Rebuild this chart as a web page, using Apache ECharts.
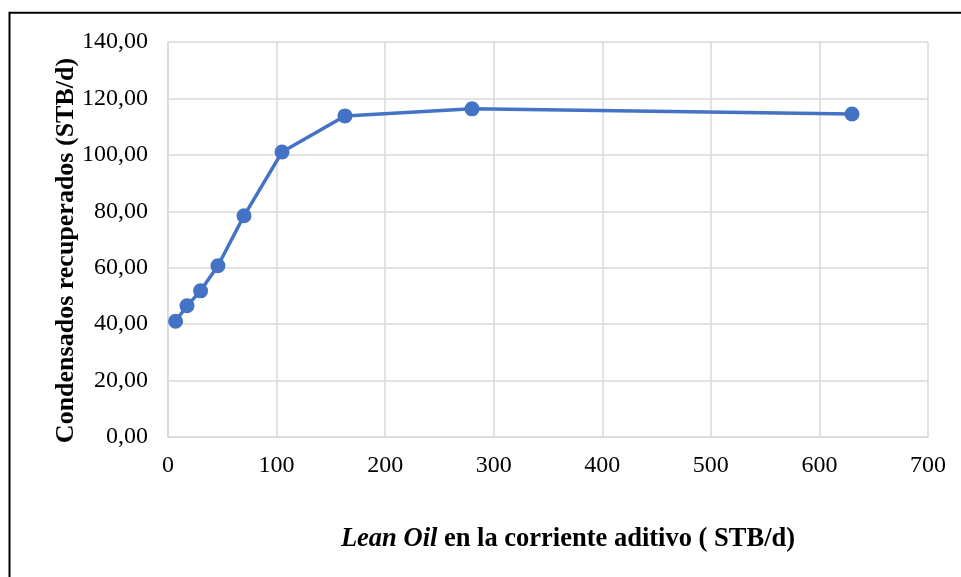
<!DOCTYPE html>
<html>
<head>
<meta charset="utf-8">
<script src="https://cdn.jsdelivr.net/npm/echarts@6/dist/echarts.min.js"></script>
<style>
  html, body { margin: 0; padding: 0; background: #fff; }
  #chart { width: 961px; height: 577px; }
</style>
</head>
<body>
<div id="chart"></div>
<script>
    // datos
    var leanOil = [7, 17.5, 30, 46, 70, 105, 163, 280, 630];
    var condensados = [41.0, 46.5, 51.8, 60.7, 78.4, 101.0, 113.8, 116.3, 114.5];
    var xTicks = [0, 100, 200, 300, 400, 500, 600, 700];
    var yTicks = [0, 20, 40, 60, 80, 100, 120, 140];

    var points = [];
    for (var i = 0; i < leanOil.length; i++) {
        points.push([leanOil[i], condensados[i]]);
    }

    var chart = echarts.init(document.getElementById('chart'));

    var fontSerif = '"Liberation Serif", "Times New Roman", serif';
    var gridColor = '#d9d9d9';

    var option = {
        animation: false,
        textStyle: { fontFamily: fontSerif },
        graphic: [{
            type: 'rect',
            shape: { x: 9.5, y: 12.8, width: 1000, height: 600 },
            style: { fill: 'none', stroke: '#000', lineWidth: 2 },
            silent: true
        }],
        grid: {
            left: 168,
            top: 42,
            right: 33,
            bottom: 140
        },
        xAxis: {
            type: 'value',
            min: xTicks[0],
            max: xTicks[xTicks.length - 1],
            interval: 100,
            name: '{i|Lean Oil }{b|en la corriente aditivo ( STB/d)}',
            nameLocation: 'middle',
            nameGap: 89,
            nameTextStyle: {
                padding: [0, 0, 0, 40],
                rich: {
                    i: { fontFamily: fontSerif, fontSize: 26.5, fontWeight: 'bold', fontStyle: 'italic', color: '#000' },
                    b: { fontFamily: fontSerif, fontSize: 26.5, fontWeight: 'bold', color: '#000' }
                }
            },
            axisLine: { show: true, lineStyle: { color: gridColor, width: 1.5 } },
            axisTick: { show: false },
            axisLabel: {
                margin: 17,
                fontFamily: fontSerif,
                fontSize: 24,
                color: '#000'
            },
            splitLine: { show: true, lineStyle: { color: gridColor, width: 1.5 } }
        },
        yAxis: {
            type: 'value',
            min: yTicks[0],
            max: yTicks[yTicks.length - 1],
            interval: 20,
            name: 'Condensados recuperados (STB/d)',
            nameLocation: 'middle',
            nameGap: 89,
            nameMoveOverlap: false,
            nameTextStyle: {
                fontFamily: fontSerif,
                fontSize: 26,
                fontWeight: 'bold',
                color: '#000',
                padding: [0, 22, 0, 0]
            },
            axisLine: { show: true, lineStyle: { color: gridColor, width: 1.5 } },
            axisTick: { show: false },
            axisLabel: {
                margin: 20,
                fontFamily: fontSerif,
                fontSize: 24,
                color: '#000',
                formatter: function(v) {
                    return v.toFixed(2).replace('.', ',');
                }
            },
            splitLine: { show: true, lineStyle: { color: gridColor, width: 1.5 } }
        },
        series: [{
            type: 'line',
            data: points,
            symbol: 'circle',
            symbolSize: 15,
            lineStyle: { color: '#4472c4', width: 3.5 },
            itemStyle: { color: '#4472c4' }
        }]
    };

    chart.setOption(option);
</script>
</body>
</html>
